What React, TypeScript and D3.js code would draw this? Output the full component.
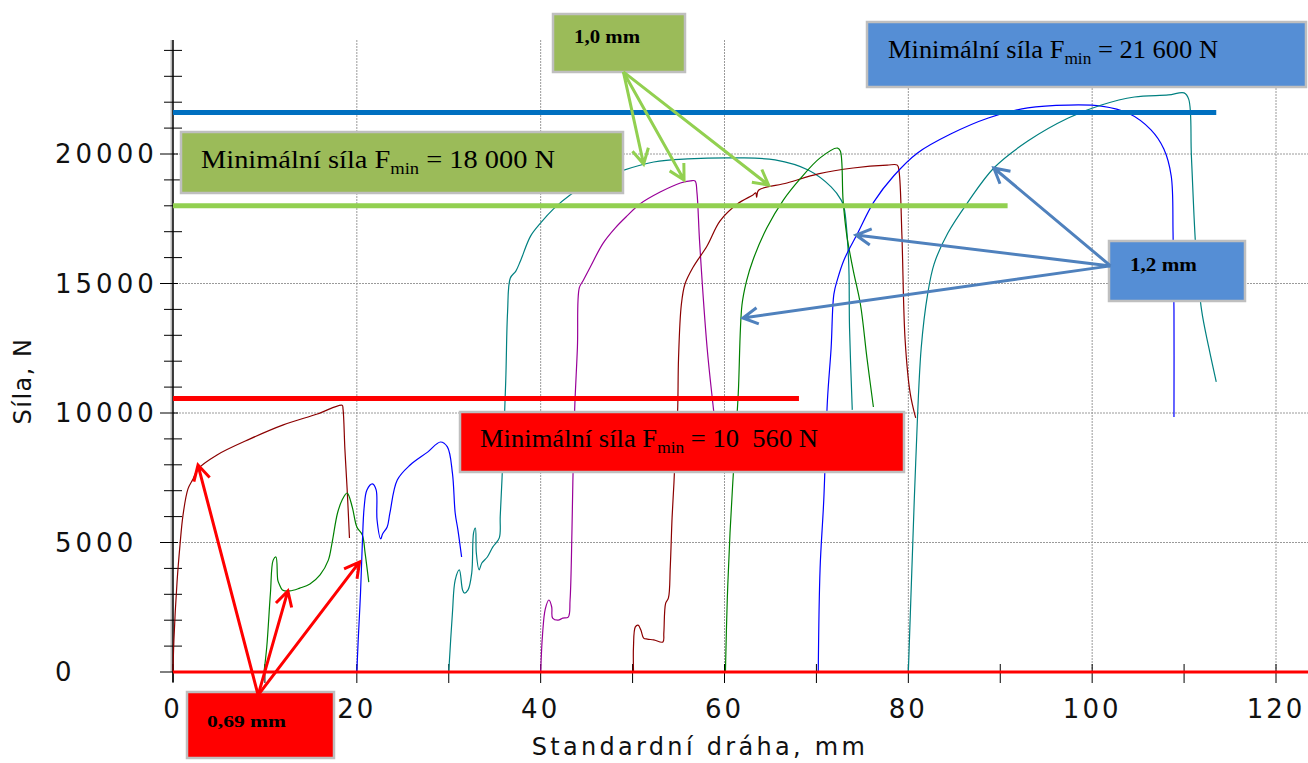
import * as d3 from 'd3';
import React from 'react';

type Pt = [number, number];

// axis ticks
const xTicks = [0, 20, 40, 60, 80, 100, 120];
const yTicks = [0, 5000, 10000, 15000, 20000];

// traces, 0,69 mm sheet
const trace069a: Pt[] = [
	[0, 0], [0.1, 1235], [0.44, 3475], [0.76, 4900], [1.09, 6060], [1.63, 7070], [2.18, 7450],
	[2.72, 7840], [4.79, 8380], [8.39, 9000], [12.0, 9540], [15.7, 9960], [18.4, 10300],
	[18.5, 10150], [18.7, 8610], [18.95, 7030], [19.2, 5170],
];
const trace069b: Pt[] = [
	[9.9, 0], [10.2, 965], [10.6, 3050], [10.9, 4320], [11.2, 4440], [11.4, 3550], [11.6, 3360],
	[11.9, 3170], [12.7, 3130], [13.8, 3240], [14.9, 3400], [16.0, 3750], [16.9, 4320], [17.3, 4980],
	[17.9, 6140], [18.4, 6640], [18.95, 6910], [19.5, 6370], [20.0, 5600], [20.6, 5290], [20.9, 4590],
	[21.3, 3470],
];
const trace069c: Pt[] = [
	[20.0, 0], [20.15, 1235], [20.4, 3050], [20.6, 4980], [20.8, 6370], [21.1, 7030], [21.7, 7260],
	[22.1, 7030], [22.2, 5870], [22.6, 5140], [22.8, 5330], [23.3, 5600], [23.6, 6140], [24.4, 7410],
	[25.8, 7990], [27.7, 8490], [29.1, 8880], [29.85, 8690], [30.4, 7680], [30.7, 6140], [31.0, 5480],
	[31.4, 4440],
];

// traces, 1,0 mm sheet
const trace10a: Pt[] = [
	[30.0, 0], [30.4, 2280], [30.7, 3550], [31.15, 3940], [31.5, 3170], [31.7, 3050], [32.1, 3170],
	[32.5, 3820], [32.7, 5370], [32.9, 5560], [33.0, 4600], [33.3, 3940], [33.6, 4210], [34.2, 4440],
	[34.8, 4830], [35.5, 5180], [35.6, 6000], [35.8, 7500], [36.2, 11240], [36.4, 13900], [36.7, 15210],
	[37.3, 15480], [37.8, 15870], [38.9, 16830], [40.0, 17340], [41.4, 17880], [43.2, 18420],
	[45.7, 18960], [48.7, 19340], [52.3, 19690], [56.0, 19810], [61.4, 19850], [65.5, 19770],
	[69.1, 19380], [71.6, 18730], [72.7, 18220], [73.0, 17950], [73.5, 15900], [73.6, 13320],
	[73.9, 10120],
];
const trace10b: Pt[] = [
	[40.0, 0], [40.2, 1430], [40.5, 2430], [40.9, 2780], [41.2, 2510], [41.3, 2080], [41.9, 2000],
	[42.4, 2080], [43.0, 2120], [43.2, 2780], [43.4, 5370], [43.5, 7300], [43.7, 10150], [44.0, 12550],
	[44.2, 14830], [44.6, 15100], [45.4, 15640], [46.8, 16560], [48.1, 17140], [49.4, 17610],
	[50.8, 18070], [53.0, 18530], [55.2, 18880], [56.3, 18960], [56.8, 18960], [57.0, 18530],
	[57.3, 16560], [58.1, 12550], [58.8, 10150], [59.3, 8500],
];
const trace10c: Pt[] = [
	[50.1, 0], [50.1, 1000], [50.3, 1740], [50.6, 1810], [50.9, 1620], [51.2, 1310], [51.6, 1270],
	[52.3, 1240], [53.3, 1160], [53.4, 1510], [53.6, 2660], [53.9, 2860], [54.1, 4050], [54.3, 5980],
	[54.5, 7300], [54.7, 8900], [54.9, 10080], [55.0, 12120], [55.3, 14170], [55.7, 14980],
	[56.6, 15640], [58.1, 16450], [59.5, 17410], [61.4, 18070], [63.1, 18420], [63.4, 18500],
	[63.5, 18330], [63.7, 18600], [66.8, 18880], [70.2, 19230], [74.0, 19460], [77.7, 19570],
	[78.8, 19570], [79.0, 19300], [79.3, 16870], [79.65, 12820], [80.2, 10770], [80.8, 9810],
];

// traces, 1,2 mm sheet
const trace12a: Pt[] = [
	[60.1, 0], [60.3, 2780], [60.6, 5370], [60.9, 7300], [61.2, 9000], [61.5, 10770], [61.9, 14170],
	[62.4, 15100], [63.1, 15910], [64.6, 17140], [66.4, 18220], [68.2, 19030], [70.4, 19850],
	[72.3, 20230], [72.6, 20120], [72.9, 18220], [73.3, 16870], [74.0, 15520], [74.8, 14170],
	[75.5, 12120], [76.2, 10230],
];
const trace12b: Pt[] = [
	[70.2, 0], [70.4, 4000], [70.8, 6640], [71.2, 10500], [71.6, 12510], [71.9, 14590], [72.3, 15170],
	[73.0, 15910], [74.5, 16950], [76.25, 18150], [78.4, 19150], [81.0, 20040], [84.6, 20770],
	[88.7, 21390], [93.0, 21780], [97.4, 21890], [101.0, 21850], [103.9, 21580], [106.4, 20930],
	[107.8, 20190], [108.6, 19150], [108.8, 16950], [108.9, 13980], [108.9, 9850],
];
const trace12c: Pt[] = [
	[80.0, 0], [80.5, 5140], [80.8, 8070], [81.4, 12510], [82.1, 14590], [82.8, 15750], [84.3, 16950],
	[86.5, 18150], [89.3, 19460], [93.0, 20500], [97.4, 21390], [101.0, 21890], [104.6, 22200],
	[108.3, 22280], [110.0, 22360], [110.5, 22120], [110.8, 19880], [111.3, 16220], [111.9, 13980],
	[112.7, 12510], [113.5, 11200],
];

// minimum force limits and how far their lines run
const limitValues = [10560, 18000, 21600];
const limitEnds = [68.1, 90.8, 113.5];

// arrow anchors [x, force]
const arrowFrom069: Pt = [9.26, -890];
const arrowTo069: Pt[] = [[2.72, 7990], [12.5, 3130], [20.3, 4250]];
const arrowFrom10: Pt = [49.0, 23170];
const arrowTo10: Pt[] = [[51.2, 19610], [55.6, 19000], [64.8, 18800]];
const arrowFrom12: Pt = [102.0, 15680];
const arrowTo12: Pt[] = [[89.3, 19460], [74.3, 16870], [62.0, 13670]];

const W = 1308;
const H = 763;

const x = d3.scaleLinear().domain([0, 120]).range([173, 1276]);
const y = d3.scaleLinear().domain([0, 20000]).range([672, 154]);

const line = d3
	.line<Pt>()
	.x(d => x(d[0]))
	.y(d => y(d[1]))
	.curve(d3.curveCatmullRom.alpha(0.5));

const traces = [
	{ data: trace069a, color: '#8b0000' },
	{ data: trace069b, color: '#008000' },
	{ data: trace069c, color: '#0000ff' },
	{ data: trace10a, color: '#008080' },
	{ data: trace10b, color: '#990099' },
	{ data: trace10c, color: '#8b0000' },
	{ data: trace12a, color: '#008000' },
	{ data: trace12b, color: '#0000ff' },
	{ data: trace12c, color: '#008080' },
];

const limitColors = ['#ff0000', '#92d050', '#0070c0'];

const arrowPath = (from: Pt, to: Pt) => {
	const x1 = x(from[0]);
	const y1 = y(from[1]);
	const x2 = x(to[0]);
	const y2 = y(to[1]);
	const a = Math.atan2(y1 - y2, x1 - x2);
	const len = 17;
	const s = 0.5;
	const h1 = [x2 + len * Math.cos(a + s), y2 + len * Math.sin(a + s)];
	const h2 = [x2 + len * Math.cos(a - s), y2 + len * Math.sin(a - s)];
	return `M${x1},${y1}L${x2},${y2}M${h1[0]},${h1[1]}L${x2},${y2}L${h2[0]},${h2[1]}`;
};

const serif = '"Liberation Serif", "Times New Roman", serif';
const sans = '"DejaVu Sans", Verdana, sans-serif';

const Box: React.FC<{ bx: number; by: number; bw: number; bh: number; fill: string }> = ({ bx, by, bw, bh, fill }) => (
	<rect x={bx} y={by} width={bw} height={bh} fill={fill} stroke="#bfbfbf" strokeWidth={2.5} />
);

const LimitLabel: React.FC<{ tx: number; ty: number; value: string; len: number }> = ({ tx, ty, value, len }) => (
	<text x={tx} y={ty} fontFamily={serif} fontSize={26} fill="#000" textLength={len} lengthAdjust="spacingAndGlyphs">
		Minimální síla F
		<tspan fontSize={17} dy={6}>min</tspan>
		<tspan dy={-6}> = {value}</tspan>
	</text>
);

export default function App() {
	const minorY = d3.range(0, 24001, 1000);
	const minorX = d3.range(0, 121, 10);
	return (
		<svg width={W} height={H} style={{ position: 'absolute', left: 0, top: 0, background: '#fff' }}>
			{/* grid */}
			<g stroke="#9a9a9a" strokeWidth={1} strokeDasharray="2,1">
				{yTicks.slice(1).map(t => (
					<line key={'gy' + t} x1={x(0)} x2={W} y1={y(t)} y2={y(t)} />
				))}
				{xTicks.slice(1).map(t => (
					<line key={'gx' + t} x1={x(t)} x2={x(t)} y1={40} y2={y(0)} />
				))}
			</g>
			{/* axes */}
			<line x1={x(0) - 1.5} x2={x(0) - 1.5} y1={40} y2={y(0)} stroke="#bbb" strokeWidth={2} />
			<line x1={x(0)} x2={x(0)} y1={40} y2={y(0) + 10} stroke="#000" strokeWidth={1.5} />
			<line x1={x(0)} x2={W} y1={y(0)} y2={y(0)} stroke="#000" strokeWidth={1.5} />
			<g stroke="#000" strokeWidth={1}>
				{minorY.map(t => (
					<line key={'ty' + t} x1={t % 5000 === 0 ? 160 : 164} x2={t % 5000 === 0 ? 178 : 182} y1={y(t)} y2={y(t)} />
				))}
				{minorX.map(t => (
					<line key={'tx' + t} x1={x(t)} x2={x(t)} y1={y(0) - 8} y2={y(0) + 11} />
				))}
			</g>
			<g fontFamily={sans} fontSize={26} fill="#111">
				{yTicks.map(t => (
					<text key={'ly' + t} x={55} y={y(t)} dy="0.36em" letterSpacing={4}>
						{t}
					</text>
				))}
				{xTicks.map(t => (
					<text key={'lx' + t} x={x(t)} y={718} textAnchor="middle" letterSpacing={3}>
						{t}
					</text>
				))}
			</g>
			<text x={700} y={755} textAnchor="middle" fontFamily={sans} fontSize={24} letterSpacing={3.3} fill="#111">
				Standardní dráha, mm
			</text>
			<text
				transform="translate(31,381) rotate(-90)"
				textAnchor="middle"
				fontFamily={sans}
				fontSize={24}
				letterSpacing={1.5}
				fill="#111"
			>
				Síla, N
			</text>
			{/* traces */}
			<g fill="none" strokeWidth={1.2}>
				{traces.map((t, i) => (
					<path key={'tr' + i} d={line(t.data) || ''} stroke={t.color} />
				))}
			</g>
			{/* zero baseline */}
			<line x1={x(0)} x2={W} y1={y(0)} y2={y(0)} stroke="#ff0000" strokeWidth={3} />
			{/* minimum force lines */}
			{limitValues.map((v, i) => (
				<line key={'lim' + i} x1={x(0)} x2={x(limitEnds[i])} y1={y(v)} y2={y(v)} stroke={limitColors[i]} strokeWidth={5} />
			))}
			{/* boxes */}
			<Box bx={181} by={132} bw={442} bh={61} fill="#9bbb59" />
			<LimitLabel tx={201} ty={168} value="18 000 N" len={354} />
			<Box bx={553} by={14} bw={132} bh={58} fill="#9bbb59" />
			<text x={574} y={43} fontFamily={serif} fontWeight="bold" fontSize={19} textLength={66} lengthAdjust="spacingAndGlyphs">
				1,0 mm
			</text>
			<Box bx={867} by={22} bw={439} bh={65} fill="#558ed5" />
			<LimitLabel tx={888} ty={58} value="21 600 N" len={330} />
			<Box bx={1109} by={241} bw={136} bh={60} fill="#558ed5" />
			<text x={1130} y={271} fontFamily={serif} fontWeight="bold" fontSize={19} textLength={67} lengthAdjust="spacingAndGlyphs">
				1,2 mm
			</text>
			<Box bx={460} by={412} bw={444} bh={60} fill="#ff0000" />
			<LimitLabel tx={480} ty={447} value={'10\u00a0 560 N'} len={338} />
			<Box bx={187} by={692} bw={147} bh={66} fill="#ff0000" />
			<text x={207} y={727} fontFamily={serif} fontWeight="bold" fontSize={17} textLength={79} lengthAdjust="spacingAndGlyphs">
				0,69 mm
			</text>
			{/* arrows */}
			<g fill="none" strokeWidth={3} strokeLinejoin="miter">
				{arrowTo069.map((p, i) => (
					<path key={'a069' + i} d={arrowPath(arrowFrom069, p)} stroke="#ff0000" />
				))}
				{arrowTo10.map((p, i) => (
					<path key={'a10' + i} d={arrowPath(arrowFrom10, p)} stroke="#92d050" />
				))}
				{arrowTo12.map((p, i) => (
					<path key={'a12' + i} d={arrowPath(arrowFrom12, p)} stroke="#4f81bd" />
				))}
			</g>
		</svg>
	);
}
